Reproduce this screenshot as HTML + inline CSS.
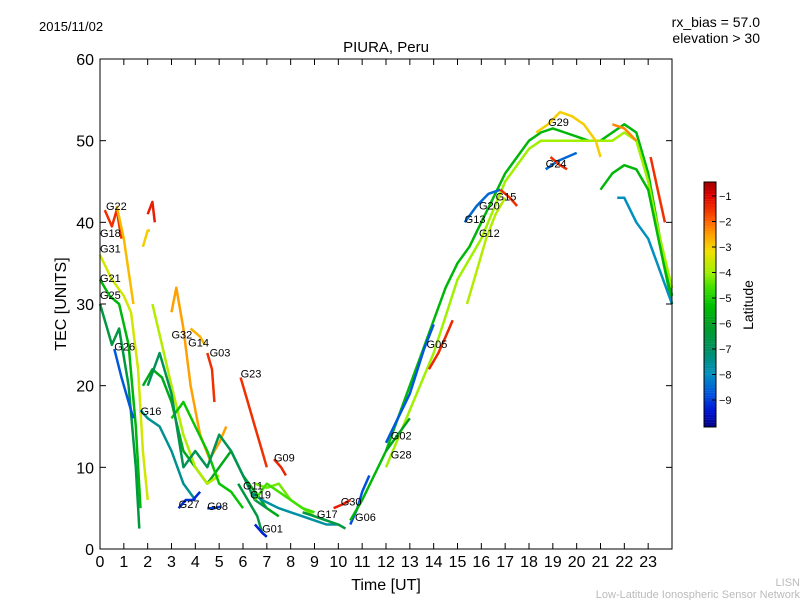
<!DOCTYPE html>
<html><head><meta charset="utf-8"><style>
body{margin:0;background:#fff;}
svg{display:block;font-family:"Liberation Sans",sans-serif;}
</style></head><body>
<svg id="chart" width="800" height="600">
<rect width="800" height="600" fill="#fff"/>
<text x="39" y="31" font-size="13">2015/11/02</text>
<text x="760" y="27" font-size="14" text-anchor="end">rx_bias = 57.0</text>
<text x="760" y="43" font-size="14" text-anchor="end">elevation &gt; 30</text>
<text x="386" y="52" font-size="15" text-anchor="middle">PIURA, Peru</text>
<g id="plot"></g>
<rect x="100" y="59" width="572" height="490" fill="none" stroke="#000"/>
<g id="axes"></g>
<text x="386" y="590" font-size="16" text-anchor="middle">Time [UT]</text>
<text transform="translate(66,304) rotate(-90)" font-size="16" text-anchor="middle">TEC [UNITS]</text>
<g id="cbar"></g>
<text transform="translate(753,305) rotate(-90)" font-size="14" text-anchor="middle">Latitude</text>
<text x="800" y="586" font-size="11" fill="#bbb" text-anchor="end">LISN</text>
<text x="800" y="598" font-size="11" fill="#bbb" text-anchor="end">Low-Latitude Ionospheric Sensor Network</text>
</svg>
<script>
const xTicks=[0,1,2,3,4,5,6,7,8,9,10,11,12,13,14,15,16,17,18,19,20,21,22,23];
const yTicks=[0,10,20,30,40,50,60];
const cTicks=[-1,-2,-3,-4,-5,-6,-7,-8,-9];
const trackNames=["G31","G21","G25","G26","G22","T6","G16","T8","T9","T9b","G32","G14","G03","G23","G09","G27","G08","G11","G19","G01","T20","G17","G30","G06","T24","T25","G05a","G05b","G13","G12","G15","G29","G24a","G24b","T33","T34","T35","T36","G02","T38","T39","T40","T41"];
const trackTimes=[
[0,0.5,1,1.3,1.6,1.8,2.0],[0,0.4,0.8,1.2,1.5,1.7],[0,0.3,0.5,0.8,1.2,1.5,1.65],[0.6,0.9,1.2,1.4],
[0.2,0.5,0.7,0.9],[0.7,1.0,1.2,1.4],[1.7,2,2.5,3,3.5,4],
[1.8,2.2,2.6,3,3.5,4,4.5,5,5.5,6,6.5,7,7.5],[1.8,2.0,2.1],[2.0,2.2,2.3],
[3.0,3.2,3.5,3.8,4.2,4.6,5,5.3],[3.8,4.2,4.4],[4.5,4.7,4.8],[5.9,6.2,6.5,6.8,7.0],[7.3,7.6,7.8],
[3.3,3.6,3.9,4.2],[4.5,4.8,5.1],[5.8,6.2,6.6,6.8,7],[6.3,6.8,7.5,8,8.5,9,9.5,10],[6.5,6.8,7],
[6.5,7,7.5,8,8.5,9,9.5],[8.5,9,9.5,10,10.3],[9.8,10.2,10.5],[10.5,10.8,11,11.3],
[10.5,11,11.5,12,12.5,13,13.5,14,14.5,15,15.5,16,16.5,17,17.5,18,18.5,19,19.5,20,20.5,21,21.5,22,22.5,23,23.5,24],
[12,13,14,15,16,17,18,18.5,19,19.5,20,21,21.5,22,22.5,23,23.5,24],
[12,12.5,13,13.6,13.8,14],[13.8,14.2,14.5,14.8],[15.3,15.8,16.3,16.8],[15.4,15.8,16.2,16.6,17],[16.8,17.2,17.5],
[18.3,18.8,19.3,19.8,20.3,20.8,21],[18.7,19.2,19.6,20],[18.9,19.3,19.6],
[21,21.5,22,22.5,23,23.5,24],[21.7,22.0,22.5,23,23.5,24],[23.1,23.4,23.7],[21.5,22,22.5],[12,12.5,13],
[2.2,2.6,3,3.5,4,4.5,5],[3,3.5,4,4.5,5,5.5,6],[2,2.5,3,3.5,4,4.5,5,5.5,6,6.5,7],[6.5,7,7.5,8,8.5,9]];
const trackTec=[
[36,33,31,29,22,12,6],[33,31,30,25,15,5],[30,27,25,27,20,10,2.5],[24.5,21,18,16],
[41.5,39.5,41.5,38],[42,38,34,30],[17,16,15,12,8,6],
[20,22,21,18,12,10,8,10,12,9,7,5,4],[37,39,39],[41,42.5,40],
[29,32,27,20,14,11,13,15],[27,26,25],[24,22,18],[21,18,15,12,10],[11,10,9],
[5,6,6,7],[5,5,5.2],[8,6,4,2,1.5],[7,6,5,4.5,4,3.5,3,3],[3,2,1.5],
[8,7.5,8,6,5,4,3.5],[4.5,4,3.5,3,2.5],[5,5.5,6],[3,5,7,9],
[3.5,6,9,12,16,20,24,28,32,35,37,40,43,46,48,50,51,51.5,51,50.5,50,50,51,52,51,46,38,31],
[10,17,24,33,38,45,49,50,50,50,50,50,50,51,50,45,38,32],
[13,16,19,24.5,26,27.5],[22,24,26,28],[40,42,43.5,44],[30,34,38,41,43],[44,43,42],
[51,52,53.5,53,52,50,48],[46.5,47.5,48,48.5],[48,47,46.5],
[44,46,47,46.5,44,37,30],[43,43,40,38,34,30],[48,44,40],[52,51.5,50],[12,14,16],
[30,25,20,14,10,8,9],[16,18,15,12,8,7,5],[20,24,19,10,12,10,14,12,9,6,5],[6,8,7,6,5,4.5]];
const trackLat=[-3.5,-5.5,-6.5,-8.7,-1.5,-2.8,-7.5,-5.8,-3,-1.3,-2.5,-2.7,-1.5,-1.5,-1.4,-9.2,-9,-6.5,-7.7,-9.3,-4.3,-6.5,-1.3,-8.8,-5.5,-4,-8.7,-1.4,-8.5,-3.8,-1.5,-3,-8.5,-1.5,-5.5,-8,-1.5,-2.3,-6,-3.8,-5.2,-6.8,-4.6];
const labelNames=["G22","G18","G31","G21","G25","G26","G16","G32","G14","G03","G23","G09","G27","G08","G11","G19","G01","G17","G30","G06","G02","G28","G05","G13","G20","G15","G12","G29","G24"];
const labelT=[0.25,0,0,0,0,0.6,1.7,3.0,3.7,4.6,5.9,7.3,3.3,4.5,6.0,6.3,6.8,9.1,10.1,10.7,12.2,12.2,13.7,15.3,15.9,16.6,15.9,18.8,18.7];
const labelV=[41.5,38.2,36.3,32.7,30.6,24.3,16.4,25.8,24.8,23.6,21.0,10.7,5.0,4.8,7.3,6.2,2.0,3.8,5.3,3.4,13.4,11.1,24.6,39.9,41.6,42.7,38.2,51.8,46.7];
const X=t=>100+t*572/24, Y=v=>549-v*490/60;
const cMin=-10.06,cMax=-0.45;
const stops=[[-10.06,[0,0,128]],[-9.5,[0,16,208]],[-8.8,[0,80,224]],[-8,[0,144,192]],[-7,[0,144,96]],[-6,[0,160,32]],[-5.3,[0,192,0]],[-4.6,[64,224,0]],[-4,[160,240,0]],[-3.2,[240,224,0]],[-2.5,[255,160,0]],[-2,[255,96,0]],[-1,[224,0,0]],[-0.45,[160,0,0]]];
function jet(lat){lat=Math.max(cMin,Math.min(cMax,lat));
 for(let i=1;i<stops.length;i++){if(lat<=stops[i][0]){const a=stops[i-1],b=stops[i],f=(lat-a[0])/(b[0]-a[0]);
  const c=a[1].map((v,k)=>Math.round(v+(b[1][k]-v)*f));return `rgb(${c[0]},${c[1]},${c[2]})`;}}
 return 'rgb(160,0,0)';}
const NS="http://www.w3.org/2000/svg";
function mk(tag,attrs,parent){const e=document.createElementNS(NS,tag);for(const k in attrs)e.setAttribute(k,attrs[k]);parent.appendChild(e);return e;}
const plot=document.getElementById('plot'),axes=document.getElementById('axes'),cbar=document.getElementById('cbar');
trackNames.forEach((n,i)=>{
 const d=trackTimes[i].map((t,j)=>(j?'L':'M')+X(t).toFixed(1)+','+Y(trackTec[i][j]).toFixed(1)).join(' ');
 const p=mk('path',{d:d,fill:'none',stroke:jet(trackLat[i]),'stroke-width':2.5,'stroke-linejoin':'round'},plot);
 
 
});
labelNames.forEach((n,i)=>{
 const t=mk('text',{x:X(labelT[i]),y:Y(labelV[i]),'font-size':11},plot);t.textContent=n;
 
 
});
xTicks.forEach(v=>{
 mk('line',{x1:X(v),x2:X(v),y1:549,y2:543,stroke:'#000'},axes);
 mk('line',{x1:X(v),x2:X(v),y1:59,y2:65,stroke:'#000'},axes);
 const t=mk('text',{x:X(v),y:567,'font-size':16,'text-anchor':'middle'},axes);t.textContent=v;
 
 
});
yTicks.forEach(v=>{
 mk('line',{x1:100,x2:106,y1:Y(v),y2:Y(v),stroke:'#000'},axes);
 mk('line',{x1:666,x2:672,y1:Y(v),y2:Y(v),stroke:'#000'},axes);
 const t=mk('text',{x:94,y:Y(v)+6,'font-size':16,'text-anchor':'end'},axes);t.textContent=v;
 
 
});
const cy=l=>182+(cMax-l)*245/(cMax-cMin);
for(let k=0;k<100;k++){const l0=cMax-k*(cMax-cMin)/100;
 mk('rect',{x:704,y:cy(l0),width:12,height:2.6,fill:jet(l0-0.05)},cbar);}
mk('rect',{x:704,y:182,width:12,height:245,fill:'none',stroke:'#000'},cbar);
cTicks.forEach(v=>{
 mk('line',{x1:712,x2:716,y1:cy(v),y2:cy(v),stroke:'#000'},cbar);
 const t=mk('text',{x:719,y:cy(v)+4,'font-size':11},cbar);t.textContent='\u2212'+(-v);
 
 
});
</script>
</body></html>
